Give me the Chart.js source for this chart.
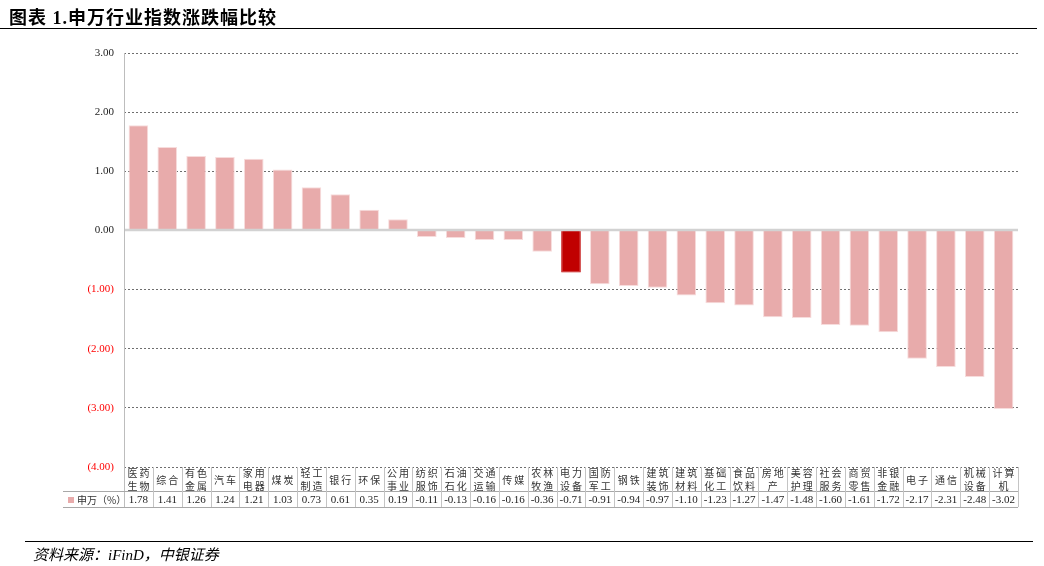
<!DOCTYPE html>
<html><head><meta charset="utf-8">
<script src="https://cdn.jsdelivr.net/npm/chart.js@4"></script>
<style>
body{margin:0;background:#fff;}
#wrap{position:relative;width:1044px;height:566px;overflow:hidden;background:#fff;}
#box{position:absolute;left:0;top:0;width:1044px;height:566px;}
.title{position:absolute;left:9px;top:3px;font:bold 18px "Liberation Serif","Noto Sans CJK SC",serif;color:#000;letter-spacing:1px;white-space:nowrap;}
.tline{position:absolute;left:0;top:28px;width:1037px;border-top:1px solid #000;}
.fline{position:absolute;left:25px;top:541px;width:1008px;border-top:1px solid #000;}
.foot{position:absolute;left:33px;top:543px;font:italic 15px "Liberation Serif","Noto Sans CJK SC",serif;color:#000;white-space:nowrap;}
</style></head>
<body>
<div id="wrap">
<div id="box"><canvas id="c"></canvas></div>
<div class="title">图表 1.申万行业指数涨跌幅比较</div>
<div class="tline"></div>
<div class="fline"></div>
<div class="foot">资料来源：iFinD，中银证券</div>
</div>
<script>
const categories = [
  ['医药','生物'],['综合'],['有色','金属'],['汽车'],['家用','电器'],['煤炭'],['轻工','制造'],['银行'],['环保'],['公用','事业'],
  ['纺织','服饰'],['石油','石化'],['交通','运输'],['传媒'],['农林','牧渔'],['电力','设备'],['国防','军工'],['钢铁'],['建筑','装饰'],['建筑','材料'],
  ['基础','化工'],['食品','饮料'],['房地','产'],['美容','护理'],['社会','服务'],['商贸','零售'],['非银','金融'],['电子'],['通信'],['机械','设备'],['计算','机']
];
const seriesName = '申万（%）';
const values = [1.78,1.41,1.26,1.24,1.21,1.03,0.73,0.61,0.35,0.19,-0.11,-0.13,-0.16,-0.16,-0.36,-0.71,-0.91,-0.94,-0.97,-1.10,-1.23,-1.27,-1.47,-1.48,-1.60,-1.61,-1.72,-2.17,-2.31,-2.48,-3.02];
const highlightCategory = '电力设备';
const yMin = -4, yMax = 3, yStep = 1;

const labels = categories.map(c => c.join(''));
const pink = '#E8ABAB', red = '#C00000';
const fmt = v => v < 0 ? '(' + Math.abs(v).toFixed(2) + ')' : v.toFixed(2);

const TABLE_MID = 491, TABLE_BOTTOM = 507, TABLE_LEFT = 63;

const tablePlugin = {
  id: 'tablePlugin',
  afterDatasetsDraw(chart) {
    const {ctx, chartArea: a, scales: {x, y}} = chart;
    ctx.save();
    // zero line
    const y0 = Math.round(y.getPixelForValue(0));
    ctx.strokeStyle = '#d2d2d2'; ctx.lineWidth = 2.5;
    ctx.beginPath(); ctx.moveTo(a.left, y0); ctx.lineTo(a.right, y0); ctx.stroke();
    // axis line
    ctx.strokeStyle = '#bdbdbd'; ctx.lineWidth = 1;
    ctx.beginPath(); ctx.moveTo(a.left + 0.5, a.top); ctx.lineTo(a.left + 0.5, TABLE_BOTTOM); ctx.stroke();
    // table horizontal lines
    ctx.strokeStyle = '#a8a8a8';
    ctx.beginPath();
    ctx.moveTo(TABLE_LEFT, TABLE_MID + 0.5); ctx.lineTo(a.right, TABLE_MID + 0.5);
    ctx.moveTo(TABLE_LEFT, TABLE_BOTTOM + 0.5); ctx.lineTo(a.right, TABLE_BOTTOM + 0.5);
    ctx.stroke();
    // vertical separators
    const n = labels.length;
    ctx.strokeStyle = '#c4c4c4';
    ctx.beginPath();
    for (let i = 1; i <= n; i++) {
      const px = i < n ? Math.round((x.getPixelForValue(i - 1) + x.getPixelForValue(i)) / 2) + 0.5 : Math.round(a.right) + 0.5;
      ctx.moveTo(px, a.bottom); ctx.lineTo(px, TABLE_BOTTOM);
    }
    ctx.stroke();
    // category labels
    ctx.fillStyle = '#333';
    ctx.textAlign = 'center'; ctx.textBaseline = 'middle';
    ctx.font = '10px "Noto Sans CJK SC"';
    try { ctx.letterSpacing = '2px'; } catch (e) {}
    const rowMid = (a.bottom + TABLE_MID) / 2;
    categories.forEach((lines, i) => {
      const cx = x.getPixelForValue(i) + 1;
      if (lines.length === 1) {
        ctx.fillText(lines[0], cx, rowMid + 1);
      } else {
        ctx.fillText(lines[0], cx, rowMid - 5.5);
        ctx.fillText(lines[1], cx, rowMid + 7);
      }
    });
    try { ctx.letterSpacing = '0px'; } catch (e) {}
    // values
    ctx.fillStyle = '#222';
    ctx.font = '11px "Liberation Serif"';
    const valMid = (TABLE_MID + TABLE_BOTTOM) / 2 + 1;
    values.forEach((v, i) => {
      ctx.fillText(v.toFixed(2), x.getPixelForValue(i), valMid);
    });
    // legend cell
    ctx.fillStyle = pink;
    ctx.fillRect(68, valMid - 3, 6, 6);
    ctx.fillStyle = '#333';
    ctx.textAlign = 'left';
    ctx.font = '10px "Noto Sans CJK SC"';
    ctx.fillText(seriesName, 77, valMid);
    ctx.restore();
  }
};

new Chart(document.getElementById('c'), {
  type: 'bar',
  data: {
    labels,
    datasets: [{
      label: seriesName,
      data: values,
      backgroundColor: labels.map(l => l === highlightCategory ? red : pink),
      borderColor: labels.map(l => l === highlightCategory ? red : '#F7DCDC'),
      borderWidth: 1,
      categoryPercentage: 1,
      barPercentage: 0.68
    }]
  },
  options: {
    responsive: true,
    maintainAspectRatio: false,
    animation: false,
    layout: {padding: {left: 0, top: 53, right: 26, bottom: 99}},
    plugins: {legend: {display: false}, tooltip: {enabled: false}},
    scales: {
      x: {display: false},
      y: {
        min: yMin, max: yMax,
        afterFit(s) { s.width = 124; },
        border: {display: false, dash: [2, 2]},
        grid: {color: '#6e6e6e', lineWidth: 1, drawTicks: false},
        ticks: {
          stepSize: yStep,
          padding: 10,
          font: {family: '"Liberation Serif"', size: 11},
          color: ctx => ctx.tick && ctx.tick.value < 0 ? '#FF0000' : '#222',
          callback: v => fmt(v)
        }
      }
    }
  },
  plugins: [tablePlugin]
});
</script>
</body></html>
